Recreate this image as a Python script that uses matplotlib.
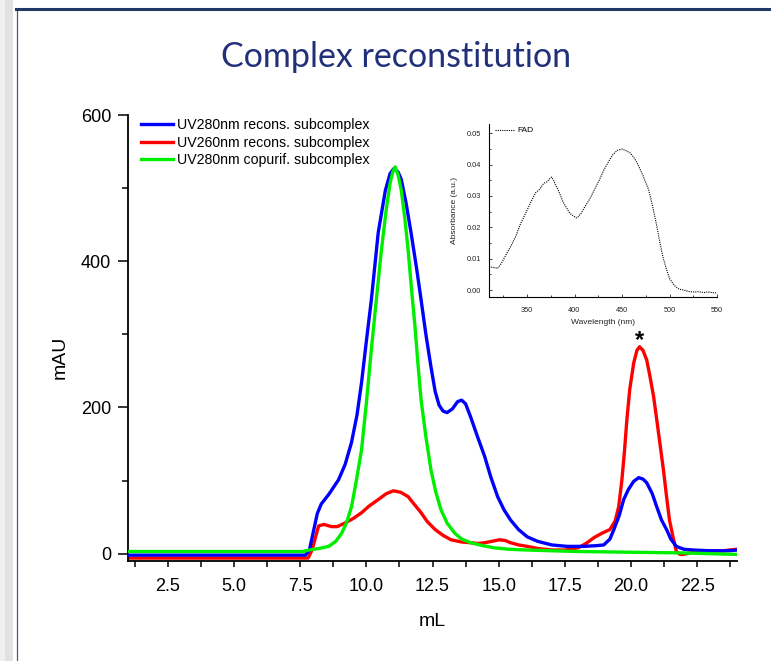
"""
Complex reconstitution: cromatograma (mAU vs mL) com espectro FAD em inset.
"""

import matplotlib
matplotlib.use("Agg")
import matplotlib.pyplot as plt
from matplotlib.lines import Line2D
from matplotlib.patches import Rectangle
from matplotlib.ticker import MultipleLocator, FormatStrFormatter

# ── Dados ─────────────────────────────────────────────────────────────────────
blue_ml = [1.0, 7.7, 7.85, 8.0, 8.15, 8.3, 8.6, 8.95, 9.2, 9.44, 9.65, 9.82, 10.0,
           10.19, 10.45, 10.72, 10.9, 11.05, 11.2, 11.32, 11.5, 11.69, 11.9, 12.07,
           12.25, 12.44, 12.6, 12.75, 12.9, 13.05, 13.25, 13.45, 13.6, 13.75, 13.94,
           14.2, 14.47, 14.7, 14.96, 15.2, 15.45, 15.75, 16.08, 16.46, 17.0, 17.58,
           18.2, 18.7, 18.97, 19.2, 19.35, 19.55, 19.72, 19.9, 20.1, 20.29, 20.45,
           20.59, 20.8, 20.96, 21.15, 21.34, 21.5, 21.71, 22.0, 22.35, 23.0, 23.7, 24.0]
blue_mau = [-2, -2, 5, 30, 55, 68, 82, 101, 122, 152, 190, 234, 290,
            347, 439, 497, 520, 527, 522, 512, 480, 439, 390, 347,
            300, 256, 222, 203, 195, 193, 198, 208, 210, 205, 187,
            160, 133, 105, 78, 60, 46, 33, 23, 17, 12, 10,
            10, 11, 12, 20, 33, 52, 74, 88, 99, 104, 102,
            97, 82, 65, 46, 33, 20, 10, 6, 5, 4, 4, 5]

red_ml = [1.0, 7.8, 7.95, 8.1, 8.2, 8.4, 8.69, 8.9, 9.2, 9.5, 9.82, 10.1, 10.45,
          10.75, 11.02, 11.3, 11.58, 11.8, 12.07, 12.3, 12.6, 12.9, 13.2, 13.6,
          13.94, 14.2, 14.47, 14.75, 15.03, 15.25, 15.45, 15.75, 16.08, 16.5, 17.0,
          17.5, 18.0, 18.3, 18.6, 18.9, 19.2, 19.4, 19.53, 19.65, 19.75, 19.84,
          19.95, 20.1, 20.22, 20.32, 20.45, 20.59, 20.7, 20.85, 21.0, 21.22, 21.35,
          21.45, 21.6, 21.71, 21.85, 21.97, 22.2, 22.46, 23.0, 23.5, 23.7, 24.0]
red_mau = [-6, -6, 5, 25, 38, 40, 37, 37, 42, 48, 56, 65, 74,
           82, 86, 84, 78, 68, 56, 44, 33, 25, 19, 16,
           15, 14, 15, 17, 19, 18, 15, 12, 10, 7, 5,
           5, 8, 14, 22, 28, 33, 45, 64, 100, 140, 183,
           225, 261, 278, 283, 278, 265, 245, 215, 175, 115, 75,
           46, 20, 3, -1, -1, 1, 3, 4, 4, 5, 6]

green_ml = [1.0, 7.6, 7.83, 8.2, 8.58, 8.85, 9.07, 9.25, 9.44, 9.6, 9.82, 10.0,
            10.19, 10.4, 10.57, 10.75, 10.9, 11.0, 11.09, 11.2, 11.32, 11.45, 11.58,
            11.7, 11.84, 11.95, 12.07, 12.25, 12.44, 12.62, 12.82, 13.05, 13.34,
            13.6, 13.94, 14.4, 14.84, 15.4, 16.08, 17.0, 18.0, 19.0, 20.0, 21.0,
            22.0, 23.0, 24.0]
green_mau = [3, 3, 5, 7, 10, 17, 28, 42, 64, 95, 142, 205,
             279, 355, 415, 470, 507, 522, 529, 518, 497, 460, 415,
             365, 310, 260, 210, 160, 115, 85, 60, 42, 28,
             20, 15, 11, 8, 6, 5, 4, 3, 2.5, 2, 1.5,
             1, 0, -1]

fad_nm = [310, 315, 319, 323, 328, 333, 338, 343, 348.6, 354, 359, 363, 367.6,
          371, 374, 376, 378, 380, 382, 385, 388, 392, 395, 399, 402, 404, 407,
          411, 416, 421, 426, 431, 436, 440, 445, 450, 455, 459, 463, 467, 472,
          478, 482, 486, 490, 493, 497, 500, 505, 510, 515, 521, 526, 531, 536,
          540, 545, 549]
fad_abs = [0.0074, 0.0072, 0.0069, 0.0085, 0.0113, 0.014, 0.017, 0.021, 0.0245,
           0.028, 0.031, 0.032, 0.034, 0.0345, 0.0355, 0.036, 0.035, 0.0335,
           0.0325, 0.0303, 0.028, 0.026, 0.0245, 0.0236, 0.023, 0.0234, 0.0245,
           0.0266, 0.029, 0.032, 0.035, 0.0383, 0.041, 0.043, 0.0445, 0.0449,
           0.0443, 0.0436, 0.042, 0.0399, 0.0365, 0.032, 0.027, 0.0213, 0.015,
           0.0106, 0.0065, 0.0037, 0.0015, 0.0003, 0.0, -0.0005, -0.0006,
           -0.0005, -0.0008, -0.0006, -0.0008, -0.0009]

star_ml, star_mau = 20.32, 291

BLUE  = "#0000FF"
RED   = "#FF0000"
GREEN = "#00EE00"
NAVY  = "#22307A"
FONT  = "Liberation Sans"

plt.rcParams["font.family"] = FONT

fig = plt.figure(figsize=(7.71, 6.61), dpi=100)

# ── Moldura do slide ──────────────────────────────────────────────────────────
fig.add_artist(Rectangle((0, 0), 13 / 771, 1, transform=fig.transFigure,
                         facecolor="#E2E2E2", edgecolor="none"))
fig.add_artist(Rectangle((0, 0), 5 / 771, 1, transform=fig.transFigure,
                         facecolor="#F0F0F0", edgecolor="none"))
fig.add_artist(Line2D([16.5 / 771, 16.5 / 771], [0, 1 - 9 / 661],
                      transform=fig.transFigure, color="#4A5A8C", lw=0.9))
fig.add_artist(Line2D([16 / 771, 1], [1 - 9 / 661, 1 - 9 / 661],
                      transform=fig.transFigure, color="#1F3864", lw=2.2))

fig.text(396 / 771, 1 - 57 / 661, "Complex reconstitution", ha="center",
         va="center", fontsize=24.5, color=NAVY, family="Lato")

# ── Cromatograma ──────────────────────────────────────────────────────────────
ax = fig.add_axes([128 / 771, 1 - 561 / 661, 609 / 771, 446 / 661])
ax.plot(blue_ml, blue_mau, color=BLUE, lw=2.4, label="UV280nm recons. subcomplex", zorder=3)
ax.plot(red_ml, red_mau, color=RED, lw=2.4, label="UV260nm recons. subcomplex", zorder=2)
ax.plot(green_ml, green_mau, color=GREEN, lw=2.4, label="UV280nm copurif. subcomplex", zorder=4)
ax.text(star_ml, star_mau, "*", ha="center", va="center", fontsize=17,
        fontweight="bold", color="black")

ax.set_xlim(1.0, 24.0)
ax.set_ylim(-10, 600)
ax.xaxis.set_major_locator(MultipleLocator(2.5))
ax.xaxis.set_minor_locator(MultipleLocator(1.25))
ax.xaxis.set_major_formatter(FormatStrFormatter("%.1f"))
ax.yaxis.set_major_locator(MultipleLocator(200))
ax.yaxis.set_minor_locator(MultipleLocator(100))
ax.tick_params(axis="both", which="major", direction="out", width=1.1,
               labelsize=13, color="black")
ax.tick_params(axis="x", which="major", length=4.5, pad=8)
ax.tick_params(axis="x", which="minor", length=4.5, width=1.1)
ax.tick_params(axis="y", which="major", length=7, pad=5)
ax.tick_params(axis="y", which="minor", length=4, width=1.1)
ax.spines[["top", "right"]].set_visible(False)
for s in ("left", "bottom"):
    ax.spines[s].set_linewidth(1.3)

fig.text(60 / 771, 1 - 357 / 661, "mAU", rotation=90, ha="center",
         va="center", fontsize=14)
fig.text(432 / 771, 1 - 621 / 661, "mL", ha="center", va="center", fontsize=14)

ax.legend(loc="upper left", bbox_to_anchor=(0.022, 0.993), frameon=False,
          fontsize=10.2, handlelength=2.2, handletextpad=0.3,
          labelspacing=0.25, borderpad=0, borderaxespad=0)

# ── Inset: espectro FAD ───────────────────────────────────────────────────────
ins = fig.add_axes([489 / 771, 1 - 297 / 661, 228 / 771, 173 / 661])
ins.plot(fad_nm, fad_abs, color="black", lw=0.8, linestyle=(0, (1, 1)),
         label="FAD")
ins.set_xlim(310, 550)
ins.set_ylim(-0.0022, 0.0529)
ins.xaxis.set_major_locator(MultipleLocator(50))
ins.xaxis.set_minor_locator(MultipleLocator(25))
ins.yaxis.set_major_locator(MultipleLocator(0.01))
ins.yaxis.set_minor_locator(MultipleLocator(0.005))
ins.yaxis.set_major_formatter(FormatStrFormatter("%.2f"))
ins.tick_params(axis="both", which="both", direction="in", labelsize=5.3,
                width=0.6, colors="#222222")
ins.tick_params(axis="x", which="major", length=2.5, pad=7)
ins.tick_params(axis="y", which="major", length=2.5, pad=6)
ins.tick_params(which="minor", length=1.5)
ins.spines[["top", "right"]].set_visible(False)
for s in ("left", "bottom"):
    ins.spines[s].set_linewidth(0.8)
ins.set_xlabel("Wavelength (nm)", fontsize=6, labelpad=4, color="#222222")
ins.set_ylabel("Absorbance (a.u.)", fontsize=6, labelpad=6, color="#222222")
ins.legend(loc="upper left", bbox_to_anchor=(0.025, 0.985), frameon=False,
           fontsize=6, handlelength=2.4, handletextpad=0.3,
           borderpad=0, borderaxespad=0)

fig.savefig("out.png", dpi=100)
print("out.png ✓")
